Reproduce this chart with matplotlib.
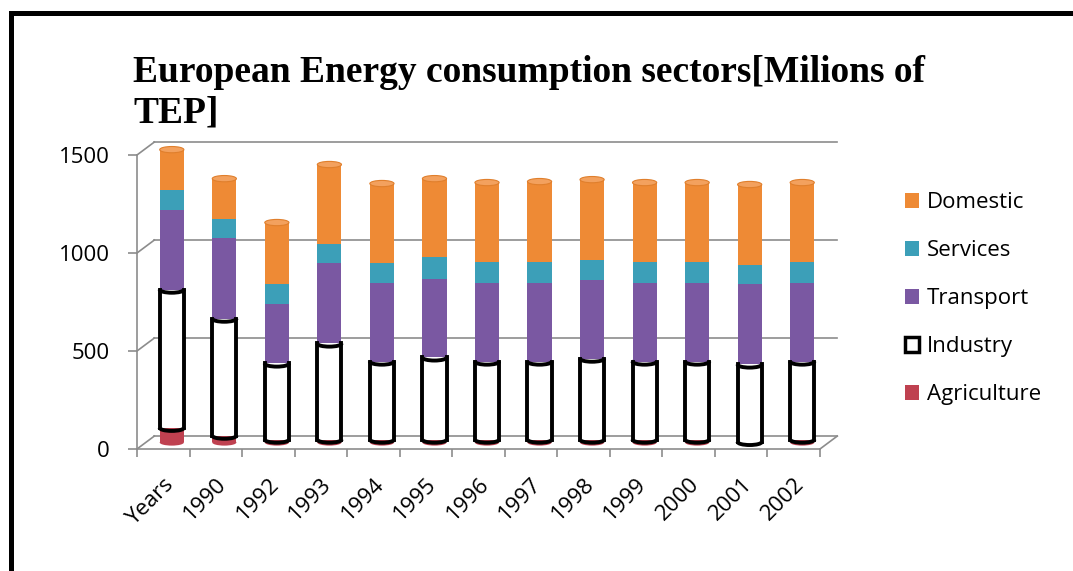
import matplotlib
matplotlib.use('Agg')
import matplotlib.pyplot as plt
import matplotlib.transforms as mtransforms
from matplotlib.patches import Patch, Ellipse, Arc, Rectangle
import numpy as np

# data (millions of TEP)
years = ['Years', '1990', '1992', '1993', '1994', '1995', '1996', '1997',
         '1998', '1999', '2000', '2001', '2002']
agriculture = [75, 35, 15, 15, 15, 15, 15, 15, 15, 15, 15, 3, 15]
industry = [705, 597, 388, 490, 398, 419, 398, 398, 413, 398, 398, 395, 398]
transport = [408, 413, 306, 413, 403, 402, 403, 403, 403, 403, 403, 408, 403]
services = [102, 97, 102, 97, 102, 108, 107, 107, 102, 107, 107, 102, 107]
domestic = [204, 204, 311, 403, 403, 402, 403, 408, 408, 403, 403, 408, 403]

c_agri = '#bf4150'
c_ind = 'white'
c_trans = '#7a58a2'
c_serv = '#3c9fb8'
c_dom = '#ee8a35'
grid_c = '#8c8c8c'

plt.rcParams['font.family'] = ['Open Sans', 'DejaVu Sans']

fig = plt.figure(figsize=(10.73, 5.71), dpi=100)
ax = fig.add_axes([0.1277, 0.2137, 0.6365, 0.5149])
x = np.arange(len(years))
ax.set_xlim(-0.5, len(years) - 0.5)
ax.set_ylim(0, 1500)

# fake 3d depth of the floor / back wall (data units)
DX, DY = 0.33, 66
xl, xr = -0.5, len(years) - 0.5
for v in [0, 500, 1000, 1500]:
    ax.plot([xl, xl + DX], [v, v + DY], color=grid_c, lw=1.2, clip_on=False, zorder=1)
    ax.plot([xl + DX, xr + DX], [v + DY, v + DY], color=grid_c, lw=1.2, clip_on=False, zorder=1)
ax.plot([xr, xr + DX], [0, DY], color=grid_c, lw=1.2, clip_on=False, zorder=1)

# bars sit half way into the depth
bar_tr = ax.transData + mtransforms.ScaledTranslation(0.085, 0.065, fig.dpi_scale_trans)
w = 0.46
eh = 32

agri = np.array(agriculture)
ind = np.array(industry)
tra = np.array(transport)
ser = np.array(services)
dom = np.array(domestic)

b1 = agri
b2 = b1 + ind
b3 = b2 + tra
b4 = b3 + ser
b5 = b4 + dom

# rounded bottoms
for i in range(len(x)):
    c = c_agri if agri[i] > 5 else c_ind
    ax.add_patch(Ellipse((x[i], 0), w, eh, fc=c, ec='none', transform=bar_tr, zorder=2))

ax.bar(x, agri, w, color=c_agri, transform=bar_tr, zorder=3, clip_on=False)
ax.bar(x, ind, w, bottom=b1, color=c_ind, transform=bar_tr, zorder=3, clip_on=False)
ax.bar(x, tra, w, bottom=b2, color=c_trans, transform=bar_tr, zorder=3, clip_on=False)
ax.bar(x, ser, w, bottom=b3, color=c_serv, transform=bar_tr, zorder=3, clip_on=False)
ax.bar(x, dom, w, bottom=b4, color=c_dom, transform=bar_tr, zorder=3, clip_on=False)

for i in range(len(x)):
    # industry outline
    ax.plot([x[i] - w / 2, x[i] - w / 2], [b1[i], b2[i]], color='black', lw=2.8,
            transform=bar_tr, zorder=4, clip_on=False)
    ax.plot([x[i] + w / 2, x[i] + w / 2], [b1[i], b2[i]], color='black', lw=2.8,
            transform=bar_tr, zorder=4, clip_on=False)
    ax.add_patch(Arc((x[i], b1[i]), w, eh, theta1=180, theta2=360, color='black', lw=2.8,
                     transform=bar_tr, zorder=4))
    ax.add_patch(Arc((x[i], b2[i]), w, eh, theta1=180, theta2=360, color='black', lw=2.8,
                     transform=bar_tr, zorder=4))
    ax.add_patch(Arc((x[i], b2[i]), w, eh, theta1=0, theta2=180, color='black', lw=1.2,
                     transform=bar_tr, zorder=2))
    # cylinder top
    ax.add_patch(Ellipse((x[i], b5[i]), w, eh, fc='#f3a15e', ec='#e07f2c', lw=0.8,
                         transform=bar_tr, zorder=4, clip_on=False))

for s in ['top', 'right']:
    ax.spines[s].set_visible(False)
ax.spines['left'].set_color(grid_c)
ax.spines['bottom'].set_color(grid_c)
ax.spines['left'].set_linewidth(1.2)
ax.spines['bottom'].set_linewidth(1.2)

ax.set_yticks([0, 500, 1000, 1500])
ax.tick_params(axis='y', length=6.5, color=grid_c, width=1.2, pad=13, labelsize=16)
ax.set_xticks(x)
ax.set_xticklabels(years, rotation=45, ha='right', rotation_mode='anchor')
ax.set_xticks(np.arange(-0.5, len(years)), minor=True)
ax.tick_params(axis='x', which='major', length=0, pad=18, labelsize=16)
ax.tick_params(axis='x', which='minor', length=6, color=grid_c, width=1.2)

fig.text(133 / 1073, 1 - 55 / 571, 'European Energy consumption sectors[Milions of\nTEP]',
         fontsize=27, fontweight='bold', family='Liberation Serif', va='top', ha='left',
         linespacing=1.2)

handles = [Patch(fc=c_dom), Patch(fc=c_serv), Patch(fc=c_trans),
           Patch(fc='white', ec='black', lw=2.5), Patch(fc=c_agri)]
labels = ['Domestic', 'Services', 'Transport', 'Industry', 'Agriculture']
fig.legend(handles, labels, loc='upper left', bbox_to_anchor=(905 / 1073, 1 - 192 / 571),
           frameon=False, fontsize=16, handlelength=0.65, handleheight=0.65,
           handletextpad=0.35, labelspacing=1.22, borderpad=0, borderaxespad=0)

# outer frame of the original figure
fig.add_artist(Rectangle((11 / 1073, -0.2), 1.2, 1.2 - 13 / 571, transform=fig.transFigure,
                         fill=False, ec='black', lw=3.6))

fig.savefig('out.png', dpi=100)
